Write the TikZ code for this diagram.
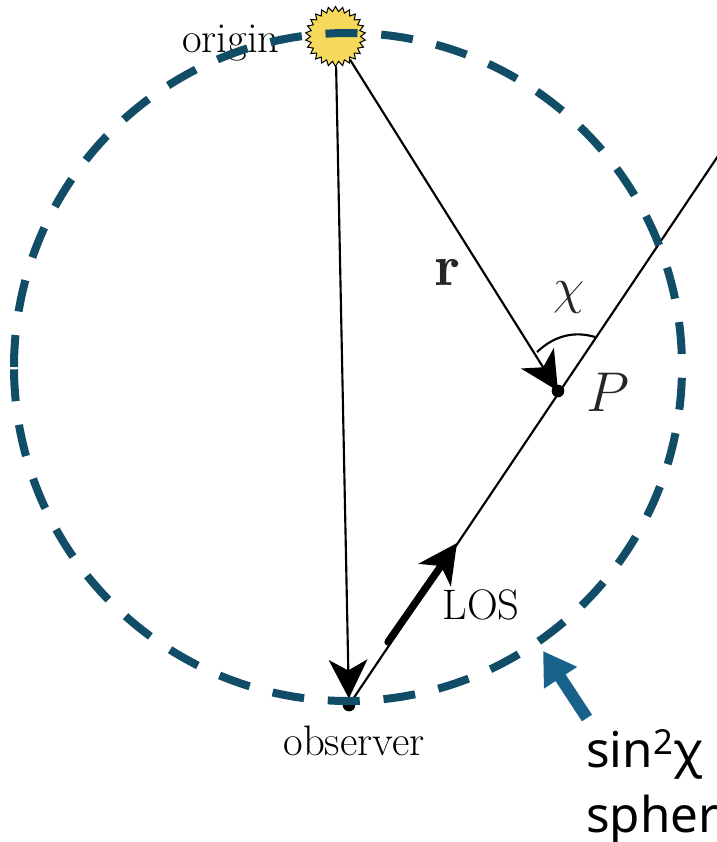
\documentclass[tikz,border=0pt]{standalone}
\usepackage{amsmath,amssymb}
\usepackage{fontspec}
\newfontfamily\labelfont{Noto Sans}
\usetikzlibrary{arrows.meta,shapes.geometric}
\definecolor{spherecolor}{HTML}{124D68}
\definecolor{pointercolor}{HTML}{17618A}
\definecolor{suncolor}{HTML}{F5D95A}

\begin{document}
\begin{tikzpicture}[
    x=0.75pt, y=-0.75pt,
    serif/.style={inner sep=0pt, font=\fontsize{32}{34}\selectfont},
    symbol/.style={inner sep=0pt, text=black!85, font=\Huge},
    dot/.style={circle, fill=black, inner sep=0pt, minimum size=9.5pt},
    line/.style={black, line width=1.6pt},
    tip/.style={-{Stealth[length=29pt, width=29pt, inset=8pt]}},
    sans/.style={anchor=base west, inner sep=0pt, font=\labelfont\fontsize{37}{37}\selectfont}
]
\useasboundingbox (0,0) rectangle (717,842);

\coordinate (west) at (14,367);
\coordinate (losend) at (720,153);
\coordinate (losfrom) at (388,642);
\coordinate (losto) at (457,543);
\coordinate (angleleft) at (537,352);
\coordinate (angleright) at (595,337);
\coordinate (pointerfrom) at (587,718);
\coordinate (pointerto) at (543,651);

\node[serif, anchor=base west] (origin) at (182,53) {origin};
\node[star, star points=26, star point ratio=1.2, draw=black, fill=suncolor, line width=0.75pt,
      inner sep=0pt, minimum size=45pt] (sun) at (335.5,36.5) {};
\node[dot] (observer) at (349,705) {};
\node[dot] (P) at (558,391) {};

% lines of sight
\draw[line, tip] (sun) -- (observer);
\draw[line, tip] (sun) -- (P.center);
\draw[line] (observer.center) -- (losend);
\draw[line cap=round, line width=5.5pt, tip] (losfrom) -- (losto);
\draw[line] (angleleft) .. controls (555,335) and (575,331) .. (angleright);

% sphere
\draw[spherecolor, line width=6pt, dash pattern=on 24pt off 17.85pt]
    (west) arc [start angle=180, end angle=540, radius=334];
\draw[pointercolor, line width=9pt, -{Triangle[length=24pt, width=28pt]}] (pointerfrom) -- (pointerto);

\node[serif, anchor=base] (los) at (481,619) {LOS};
\node[serif, anchor=base] (obslabel) at (354,755) {observer};
\node[symbol, scale=1.75] (r) at (448,272) {$\mathbf{r}$};
\node[symbol, scale=1.53] (chi) at (569,298) {$\chi$};
\node[symbol, scale=1.69] (Plabel) at (608,392) {$P$};
\node[sans] (sinlabel) at (586,767) {sin\textsuperscript{2}χ};
\node[sans] (spherelabel) at (586,832) {spher};

\end{tikzpicture}
\end{document}
